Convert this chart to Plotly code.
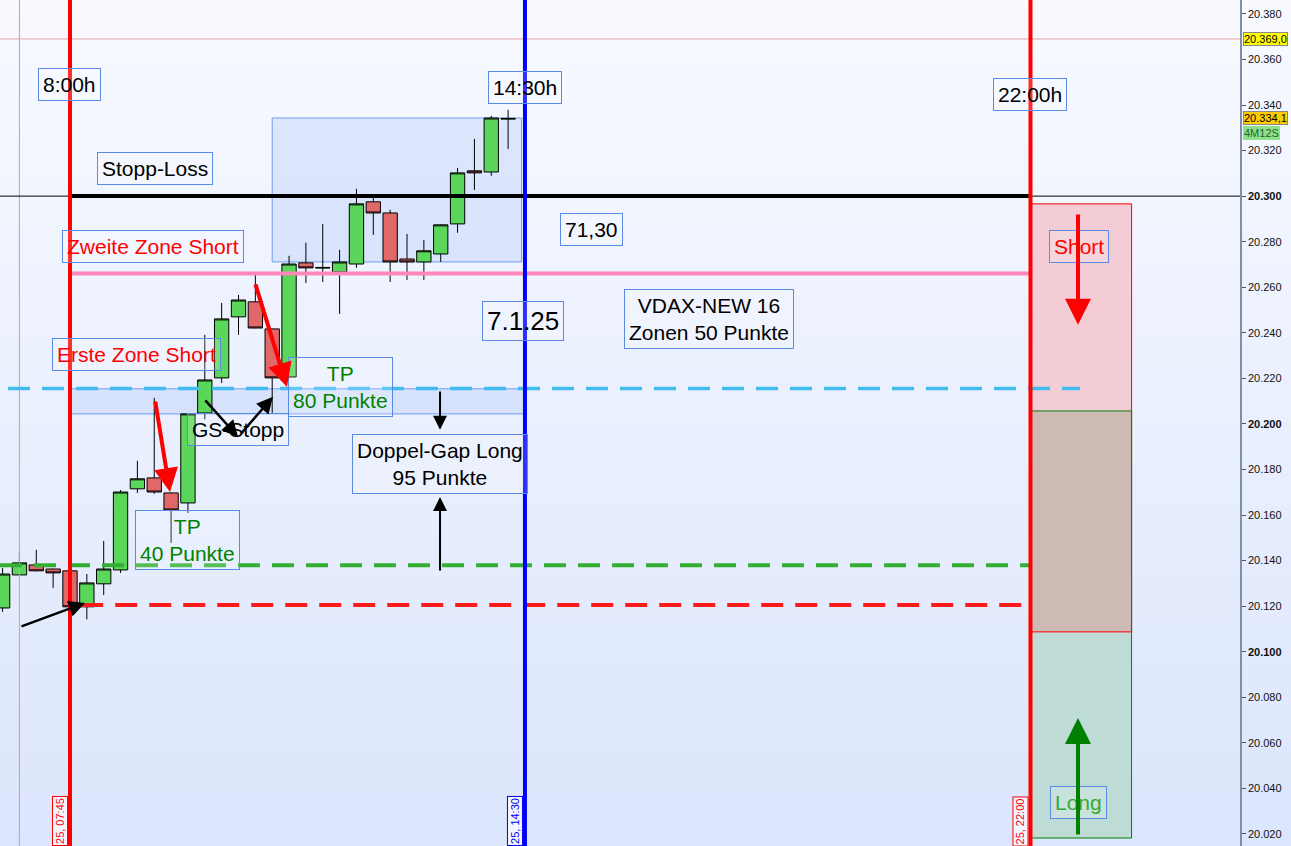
import plotly.graph_objects as go

# ---------------- data ----------------
times = ["06:45", "07:00", "07:15", "07:30", "07:45", "08:00", "08:15", "08:30",
         "08:45", "09:00", "09:15", "09:30", "09:45", "10:00", "10:15", "10:30",
         "10:45", "11:00", "11:15", "11:30", "11:45", "12:00", "12:15", "12:30",
         "12:45", "13:00", "13:15", "13:30", "13:45", "14:00", "14:15"]
opens = [20119.2, 20133.7, 20138.1, 20136.3, 20135.5, 20119.7, 20129.8, 20135.9,
         20171.5, 20176.3, 20169.7, 20165.3, 20204.8, 20220.2, 20247.0, 20253.6,
         20241.7, 20220.6, 20270.7, 20268.7, 20266.7, 20270.2, 20297.5, 20292.6,
         20272.4, 20271.1, 20274.6, 20287.8, 20311.1, 20310.6, 20333.8]
highs = [20136.8, 20144.2, 20144.7, 20136.5, 20135.7, 20134.1, 20148.6, 20171.0,
         20183.8, 20211.4, 20170.0, 20204.6, 20239.1, 20253.1, 20256.6, 20266.7,
         20241.9, 20273.8, 20279.5, 20287.8, 20276.4, 20303.2, 20300.5, 20294.0,
         20283.4, 20280.8, 20287.6, 20312.4, 20325.1, 20335.2, 20337.9]
lows = [20117.5, 20133.5, 20135.3, 20128.0, 20119.5, 20114.2, 20124.9, 20134.6,
        20169.7, 20169.3, 20147.8, 20160.9, 20202.0, 20218.0, 20239.1, 20242.0,
        20204.8, 20220.4, 20261.9, 20262.3, 20248.3, 20268.5, 20283.0, 20262.3,
        20263.2, 20263.2, 20271.1, 20283.9, 20302.7, 20308.9, 20320.7]
closes = [20134.1, 20139.0, 20135.5, 20134.6, 20119.7, 20130.2, 20136.3, 20170.1,
          20175.9, 20170.1, 20162.2, 20204.4, 20219.3, 20246.1, 20254.4, 20242.1,
          20220.2, 20270.2, 20268.5, 20268.5, 20271.1, 20296.6, 20292.6, 20271.1,
          20271.1, 20276.0, 20287.4, 20310.2, 20310.2, 20334.3, 20334.1]

# key levels
stop_loss = 20300.0
zone2_short = 20266.0
zone1_short = 20215.5
tp40_level = 20138.0
gap_level = 20120.5
marker_level = 20369.0
last_price = 20334.1

# zone boxes (price)
box_top = [20271.1, 20334.3]
band_low = [20204.4, 20215.4]
short_zone = [20108.7, 20296.6]
long_zone = [20018.2, 20205.7]

# axis ticks
tick_vals = [20020, 20040, 20060, 20080, 20100, 20120, 20140, 20160, 20180, 20200,
             20220, 20240, 20260, 20280, 20300, 20320, 20340, 20360, 20380]
tick_text = ["20.020", "20.040", "20.060", "20.080", "<b>20.100</b>", "20.120",
             "20.140", "20.160", "20.180", "<b>20.200</b>", "20.220", "20.240",
             "20.260", "20.280", "<b>20.300</b>", "20.320", "20.340", "20.360",
             "20.380"]


def tm(s):
    h, m = s.split(":")
    return int(h) * 60 + int(m)


x = [tm(t) for t in times]
T0700, T0745, T1430, T2200, T2330 = tm("07:00"), tm("07:45"), tm("14:30"), tm("22:00"), tm("23:30")
XR = [402.7, 1506.5]
YR = [20014.7, 20386.1]

fig = go.Figure()
fig.add_trace(go.Candlestick(
    x=x, open=opens, high=highs, low=lows, close=closes,
    increasing=dict(fillcolor="#5ad65a", line=dict(color="#000000", width=1)),
    decreasing=dict(fillcolor="#e06868", line=dict(color="#000000", width=1)),
    whiskerwidth=0, showlegend=False, hoverinfo="skip"))

shapes = []
# background gradient
N = 60
top = (248, 250, 255)
bot = (219, 229, 252)
for k in range(N):
    f = (k + 0.5) / N
    c = tuple(int(round(bot[j] + (top[j] - bot[j]) * f)) for j in range(3))
    shapes.append(dict(type="rect", xref="paper", yref="paper", x0=0, x1=1.05,
                       y0=k / N, y1=(k + 1) / N + 0.002, line=dict(width=0),
                       fillcolor="rgb(%d,%d,%d)" % c, layer="below"))

# zones at the right
shapes += [
    dict(type="rect", x0=T2200, x1=T2330, y0=long_zone[1], y1=short_zone[1],
         fillcolor="#f3ccd5", line=dict(width=0), layer="below"),
    dict(type="rect", x0=T2200, x1=T2330, y0=short_zone[0], y1=long_zone[1],
         fillcolor="#cebab4", line=dict(width=0), layer="below"),
    dict(type="rect", x0=T2200, x1=T2330, y0=long_zone[0], y1=short_zone[0],
         fillcolor="#bedcd5", line=dict(width=0), layer="below"),
    dict(type="rect", x0=T2200, x1=T2330, y0=short_zone[0], y1=short_zone[1],
         line=dict(color="#ff0000", width=1), layer="below"),
    dict(type="rect", x0=T2200, x1=T2330, y0=long_zone[0], y1=long_zone[1],
         line=dict(color="#008000", width=1), layer="below"),
]
# translucent boxes
shapes += [
    dict(type="rect", x0=tm("10:45"), x1=867, y0=box_top[0], y1=box_top[1],
         fillcolor="rgba(190,208,250,0.45)", line=dict(color="#6f9ef0", width=1), layer="below"),
    dict(type="rect", x0=T0745, x1=T1430, y0=band_low[0], y1=band_low[1],
         fillcolor="rgba(190,208,250,0.45)", line=dict(color="#6f9ef0", width=1), layer="below"),
]
# thin lines
shapes += [
    dict(type="line", xref="x", yref="paper", x0=T0700, x1=T0700, y0=0, y1=1,
         line=dict(color="#f09090", width=1)),
    dict(type="line", xref="paper", x0=0, x1=1, y0=marker_level, y1=marker_level,
         line=dict(color="#e8a0a8", width=1)),
    dict(type="line", xref="paper", x0=0, x1=1, y0=stop_loss, y1=stop_loss,
         line=dict(color="#000000", width=1)),
]
# levels
shapes += [
    dict(type="line", x0=T0745, x1=T2200, y0=stop_loss, y1=stop_loss,
         line=dict(color="#000000", width=4)),
    dict(type="line", x0=T0745, x1=T2200, y0=zone2_short, y1=zone2_short,
         line=dict(color="#ff88bb", width=4)),
    dict(type="line", x0=409.8, x1=1364, y0=zone1_short, y1=zone1_short,
         line=dict(color="#44bbee", width=3.5, dash="22px,12px")),
    dict(type="line", x0=XR[0], x1=T2200, y0=tp40_level, y1=tp40_level,
         line=dict(color="#33b033", width=4, dash="22px,12px")),
    dict(type="line", x0=475, x1=T2200, y0=gap_level, y1=gap_level,
         line=dict(color="#ff1a1a", width=4, dash="22px,12px")),
]
# vertical time lines
for tv, col in [(T0745, "#ff0000"), (T1430, "#0000ff"), (T2200, "#ff0000")]:
    shapes.append(dict(type="line", xref="x", yref="paper", x0=tv, x1=tv, y0=0, y1=1,
                       line=dict(color=col, width=4)))

ann = []
FONT = "Liberation Sans, Arial, sans-serif"
BC = "#5a8ae6"


def box(xv, yv, text, color="#000000", size=21):
    ann.append(dict(x=xv, y=yv, xref="x", yref="y", text=text, showarrow=False,
                    font=dict(family=FONT, size=size, color=color), align="center",
                    bordercolor=BC, borderwidth=1, borderpad=4,
                    bgcolor="rgba(255,255,255,0.18)"))


box(T0745, 20348.8, "8:00h")
box(T1430, 20347.5, "14:30h")
box(T2200, 20344.4, "22:00h")
box(540.7, 20312.0, "Stopp-Loss")
box(539.3, 20278.1, "Zweite Zone Short", "#ff0000")
box(523.8, 20230.3, "Erste Zone Short", "#ff0000")
box(705.4, 20216.2, "TP<br>80 Punkte", "#008000")
box(614.5, 20197.4, "GS-Stopp")
box(570.0, 20149.1, "TP<br>40 Punkte", "#008000")
box(794.4, 20182.4, "Doppel-Gap Long<br>95 Punkte")
box(868.0, 20245.2, "7.1.25", size=26)
box(928.8, 20285.2, "71,30")
box(1033.9, 20246.1, "VDAX-NEW 16<br>Zonen 50 Punkte")
box(1363.0, 20278.1, "Short", "#ff0000")
box(1363.0, 20033.6, "Long", "#33aa33")


def arrow(tail, head, color, width, size):
    ann.append(dict(x=head[0], y=head[1], ax=tail[0], ay=tail[1], xref="x", yref="y",
                    axref="x", ayref="y", text="", showarrow=True, arrowhead=2,
                    arrowsize=size, arrowwidth=width, arrowcolor=color, standoff=0))


arrow((629.7, 20261.9), (658.2, 20216.2), "#ff0000", 4, 1.2)
arrow((540.7, 20210.5), (554.0, 20170.1), "#ff0000", 4, 1.2)
arrow((420.5, 20110.9), (478.4, 20121.4), "#000000", 2.5, 1.3)
arrow((584.3, 20211.0), (614.6, 20194.3), "#000000", 2.5, 1.3)
arrow((616.3, 20195.2), (645.7, 20211.9), "#000000", 2.5, 1.3)
arrow((794.4, 20214.9), (794.4, 20197.4), "#000000", 2, 1.4)
arrow((794.4, 20135.0), (794.4, 20167.9), "#000000", 2, 1.4)
arrow((1362.3, 20292.6), (1362.3, 20243.5), "#ff0000", 4, 1.3)
arrow((1362.3, 20019.1), (1362.3, 20070.9), "#008000", 4, 1.3)

# price labels on the axis
for yv, txt, bg, fc in [(marker_level, "20.369,0", "#ffff00", "#000000"),
                        (last_price, "20.334,1", "#ffcc00", "#000000"),
                        (last_price - 6.3, "4M12S", "#8ee08e", "#226622")]:
    ann.append(dict(x=1.0, y=yv, xref="paper", yref="y", xanchor="left", xshift=3,
                    text=txt, showarrow=False, font=dict(family=FONT, size=11, color=fc),
                    bgcolor=bg, bordercolor="#888888" if bg != "#8ee08e" else bg,
                    borderwidth=1, borderpad=0))

# rotated time labels at the bottom
for tv, txt, col in [(T0745, "25, 07:45", "#ff0000"),
                     (T1430, "25, 14:30", "#0000ff"),
                     (T2200, "25, 22:00", "#ff0000")]:
    ann.append(dict(x=tv, y=0, xref="x", yref="paper", xanchor="right",
                    yanchor="bottom", xshift=-2, text=txt, textangle=-90, showarrow=False,
                    font=dict(family=FONT, size=11, color=col), bgcolor="#f4f6ff",
                    bordercolor=col, borderwidth=1, borderpad=1))

fig.update_layout(
    width=1291, height=846, margin=dict(l=0, r=51, t=0, b=0),
    paper_bgcolor="#e8eefc", plot_bgcolor="rgba(0,0,0,0)",
    shapes=shapes, annotations=ann, showlegend=False,
    boxgap=0.15, boxgroupgap=0,
    xaxis=dict(range=XR, visible=False, rangeslider=dict(visible=False), fixedrange=True),
    yaxis=dict(range=YR, side="right", showgrid=False, zeroline=False,
               tickvals=tick_vals, ticktext=tick_text, ticks="outside", ticklen=4,
               tickcolor="#555555", showline=True, linecolor="#7d90a6", linewidth=1.5,
               tickfont=dict(family=FONT, size=11, color="#111111"), fixedrange=True),
)

fig.write_html("out.html", config={"displayModeBar": False},
               post_script="document.body.style.margin='0';document.body.style.padding='0';document.body.style.overflow='hidden';")
